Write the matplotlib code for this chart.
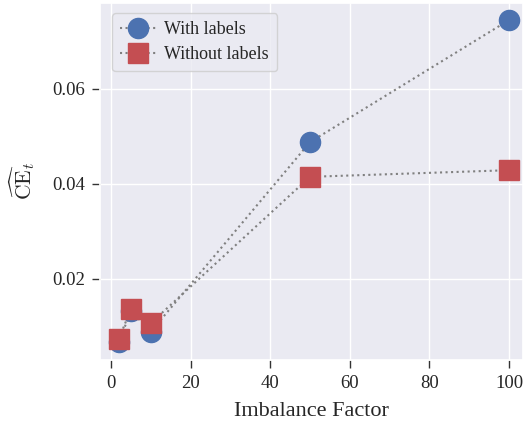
import matplotlib
matplotlib.use("Agg")
import matplotlib.pyplot as plt
import seaborn as sns

sns.set_theme(style="darkgrid")
plt.rcParams['font.family'] = 'serif'
plt.rcParams['font.serif'] = ['Liberation Serif']
plt.rcParams['mathtext.fontset'] = 'cm'

imbalance = [2, 5, 10, 50, 100]
with_labels = [0.0067, 0.0133, 0.0089, 0.0488, 0.0745]
without_labels = [0.0074, 0.0137, 0.0107, 0.0415, 0.0429]

fig, ax = plt.subplots(figsize=(5.25, 4.23), dpi=100)
ax.plot(imbalance, with_labels, linestyle=':', color='gray', lw=1.5,
        marker='o', markersize=14.5, markerfacecolor='#4C72B0', markeredgecolor='#4C72B0',
        label='With labels')
ax.plot(imbalance, without_labels, linestyle=':', color='gray', lw=1.5,
        marker='s', markersize=14.5, markerfacecolor='#C44E52', markeredgecolor='#C44E52',
        label='Without labels')
ax.set_xlim(-2.76, 103.5)
ax.set_ylim(0.00295, 0.0781)
ax.set_xticks([0, 20, 40, 60, 80, 100])
ax.set_yticks([0.02, 0.04, 0.06])
ax.tick_params(axis='both', labelsize=13.5, left=True, bottom=True, length=6, width=1,
               pad=5, color='#333333')
ax.set_xlabel('Imbalance Factor', fontsize=16, labelpad=7)
ax.set_ylabel(r'$\widehat{\mathrm{CE}}_t$', fontsize=15.5, labelpad=11)
fig.subplots_adjust(left=0.1905, right=0.996, top=0.993, bottom=0.149)
axw, axh = 423.0, 357.0
ax.legend(loc='upper left', fontsize=13, frameon=True, labelspacing=0.45,
          handletextpad=0.45, borderaxespad=0, borderpad=0.45,
          bbox_to_anchor=(12 / axw, 1 - 10 / axh))
fig.savefig('out.png', dpi=100)
